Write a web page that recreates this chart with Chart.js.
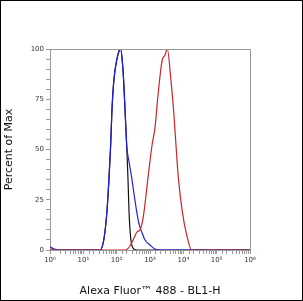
<!DOCTYPE html>
<html>
<head>
<meta charset="utf-8">
<script src="https://cdn.jsdelivr.net/npm/chart.js@4.4.1/dist/chart.umd.min.js"></script>
<style>
    html, body { margin: 0; padding: 0; background: #fff; }
    #wrap { width: 303px; height: 301px; position: relative; }
</style>
</head>
<body>
<div id="wrap"><canvas id="histChart" width="303" height="301"></canvas></div>
<script>
// histogram traces: fluorescence intensity (BL1-H) vs percent of max
const blackX = [1, 20, 32, 42, 51, 59, 66, 72, 83, 102, 118, 132, 151, 161, 178, 200, 219, 235, 263, 309, 380, 1000000];
const blackY = [0, 0, 0, 6, 19, 36, 52, 69, 85, 95, 99, 100, 92, 85, 70, 52, 35, 19, 6, 1, 0, 0];

const blueX = [1, 1.3, 2, 32, 42, 51, 59, 66, 72, 83, 102, 118, 132, 151, 161, 178, 200, 235, 282, 331, 400, 468, 563, 708, 1000, 1400, 2000, 1000000];
const blueY = [1.5, 0.6, 0, 0, 6, 19, 36, 52, 69, 85, 95, 99, 100, 92, 85, 70, 52, 44, 36, 28, 19, 13, 9, 5, 2.5, 0.5, 0, 0];

const redX = [1, 178, 251, 331, 407, 501, 575, 661, 871, 1148, 1413, 1738, 2291, 2818, 3311, 4169, 5129, 6026, 7079, 9333, 12589, 17783, 1000000];
const redY = [0, 0, 2, 6, 9, 10, 13, 19, 36, 52, 61, 77, 94, 97, 100, 86, 69, 52, 36, 19, 7.5, 0, 0];

const decadeLabels = ['10\u2070', '10\u00B9', '10\u00B2', '10\u00B3', '10\u2074', '10\u2075', '10\u2076'];
const yLabels = [0, 25, 50, 75, 100];

function toPoints(xs, ys) {
    const pts = [];
    for (let i = 0; i < xs.length; i++) {
        pts.push({ x: xs[i], y: ys[i] });
    }
    return pts;
}

function trace(data, color) {
    return {
        data: data,
        borderColor: color,
        borderWidth: 1.2,
        pointRadius: 0,
        fill: false,
        cubicInterpolationMode: 'monotone'
    };
}

// plot frame (top/right) and outer picture frame
const framePlugin = {
    id: 'frame',
    afterDraw(chart) {
        const ctx = chart.ctx;
        const a = chart.chartArea;
        ctx.save();
        ctx.strokeStyle = '#999';
        ctx.lineWidth = 1;
        ctx.beginPath();
        ctx.moveTo(a.left, a.top + 0.5);
        ctx.lineTo(a.right + 0.5, a.top + 0.5);
        ctx.lineTo(a.right + 0.5, a.bottom);
        ctx.stroke();
        ctx.strokeStyle = '#000';
        ctx.lineWidth = 2;
        ctx.strokeRect(0, 0, chart.width, chart.height);
        ctx.restore();
    }
};

const tickFont = { family: 'DejaVu Sans', size: 7 };
const titleFont = { family: 'DejaVu Sans', size: 11 };

const config = {
    type: 'line',
    data: {
        datasets: [
            trace(toPoints(redX, redY), '#c8262a'),
            trace(toPoints(blueX, blueY), '#1f1fe0'),
            trace(toPoints(blackX, blackY), '#111111')
        ]
    },
    options: {
        responsive: false,
        animation: false,
        layout: { padding: { left: 0, right: 53, top: 49, bottom: 0 } },
        plugins: {
            legend: { display: false },
            tooltip: { enabled: false }
        },
        scales: {
            x: {
                type: 'logarithmic',
                min: 1,
                max: 1000000,
                border: { color: '#999' },
                grid: { drawOnChartArea: false, tickLength: 4, color: '#999' },
                ticks: {
                    autoSkip: false,
                    maxRotation: 0,
                    color: '#333',
                    font: tickFont,
                    padding: 2,
                    callback: function (value) {
                        const e = Math.log10(value);
                        if (Math.abs(e - Math.round(e)) < 1e-9) {
                            return decadeLabels[Math.round(e)];
                        }
                        return '';
                    }
                },
                title: {
                    display: true,
                    text: 'Alexa Fluor\u2122 488 - BL1-H',
                    color: '#111',
                    font: titleFont,
                    padding: { top: 12, bottom: 3 }
                },
                afterFit: function (scale) { scale.height = 51; }
            },
            y: {
                min: 0,
                max: 100,
                border: { color: '#999' },
                grid: { drawOnChartArea: false, tickLength: 4, color: '#999' },
                ticks: {
                    stepSize: 5,
                    autoSkip: false,
                    color: '#333',
                    font: tickFont,
                    padding: 2,
                    callback: function (value) {
                        return yLabels.includes(value) ? String(value) : '';
                    }
                },
                title: {
                    display: true,
                    text: 'Percent of Max',
                    color: '#111',
                    font: titleFont,
                    padding: { top: 3, bottom: 0 }
                },
                afterFit: function (scale) { scale.width = 50; }
            }
        }
    },
    plugins: [framePlugin]
};

const histChart = new Chart(document.querySelector('#histChart'), config);
</script>
</body>
</html>
